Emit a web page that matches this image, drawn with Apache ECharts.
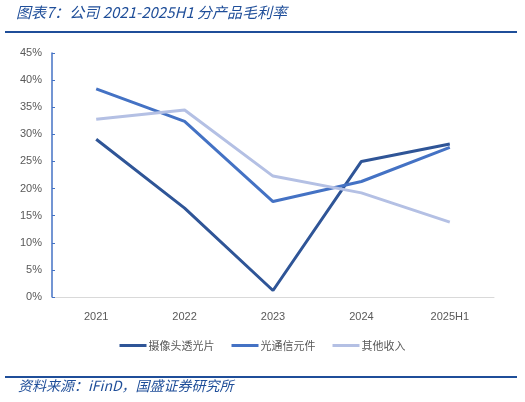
<!DOCTYPE html>
<html><head><meta charset="utf-8">
<script src="https://cdn.jsdelivr.net/npm/echarts@6/dist/echarts.min.js"></script>
<style>html,body{margin:0;padding:0;background:#fff}#c{width:525px;height:402px}</style>
</head><body><div id="c"></div>
<script>
const categories = ['2021','2022','2023','2024','2025H1'];
const yTicks = [0,5,10,15,20,25,30,35,40,45];
const camera = [29.1, 16.4, 1.2, 25.0, 28.2];
const optical = [38.4, 32.4, 17.6, 21.3, 27.6];
const other = [32.8, 34.5, 22.3, 19.2, 13.8];
const seriesNames = ['摄像头透光片','光通信元件','其他收入'];
const colors = ['#2F5597','#4472C4','#B4C0E4'];

const chart = echarts.init(document.getElementById('c'));
const mk = (name, data, color) => ({
  name, type:'line', data, symbol:'none', smooth:false,
  lineStyle:{color, width:3}, itemStyle:{color}
});
chart.setOption({
  animation:false,
  grid:{left:52, right:31, top:53, bottom:105},
  graphic:[
    {type:'text', left:16, top:5, style:{text:'图表7：公司 2021-2025H1 分产品毛利率', fill:'#1F4E99', font:'italic 15px "Noto Sans CJK SC", sans-serif'}},
    {type:'rect', shape:{x:5, y:31, width:512, height:2}, style:{fill:'#1F4E99'}},
    {type:'rect', shape:{x:5, y:376, width:512, height:2}, style:{fill:'#1F4E99'}},
    {type:'text', left:18, top:379, style:{text:'资料来源：iFinD，国盛证券研究所', fill:'#1F4E99', font:'italic 14px "Noto Sans CJK SC", sans-serif'}}
  ],
  legend:{
    top:335, left:'center', itemWidth:27, itemHeight:3, itemGap:17,
    icon:'rect',
    textStyle:{color:'#595959', fontSize:11, padding:[0,0,0,-3], fontFamily:'"Noto Sans CJK SC", sans-serif'},
    data:seriesNames
  },
  xAxis:{
    type:'category', data:categories, boundaryGap:true,
    axisLine:{lineStyle:{color:'#D9D9D9', width:1}},
    axisTick:{show:false},
    axisLabel:{color:'#595959', fontSize:11, margin:14, fontFamily:'"Liberation Sans", sans-serif'}
  },
  yAxis:{
    type:'value', min:yTicks[0], max:yTicks[yTicks.length-1], interval:5,
    axisLine:{show:true, lineStyle:{color:'#4472C4', width:1.5}},
    axisTick:{show:true, inside:true, length:3, lineStyle:{color:'#4472C4'}},
    splitLine:{show:false},
    axisLabel:{color:'#595959', fontSize:11, margin:10, formatter:v=>v+'%', fontFamily:'"Liberation Sans", sans-serif'}
  },
  series:[mk(seriesNames[0], camera, colors[0]), mk(seriesNames[1], optical, colors[1]), mk(seriesNames[2], other, colors[2])]
});
</script></body></html>
